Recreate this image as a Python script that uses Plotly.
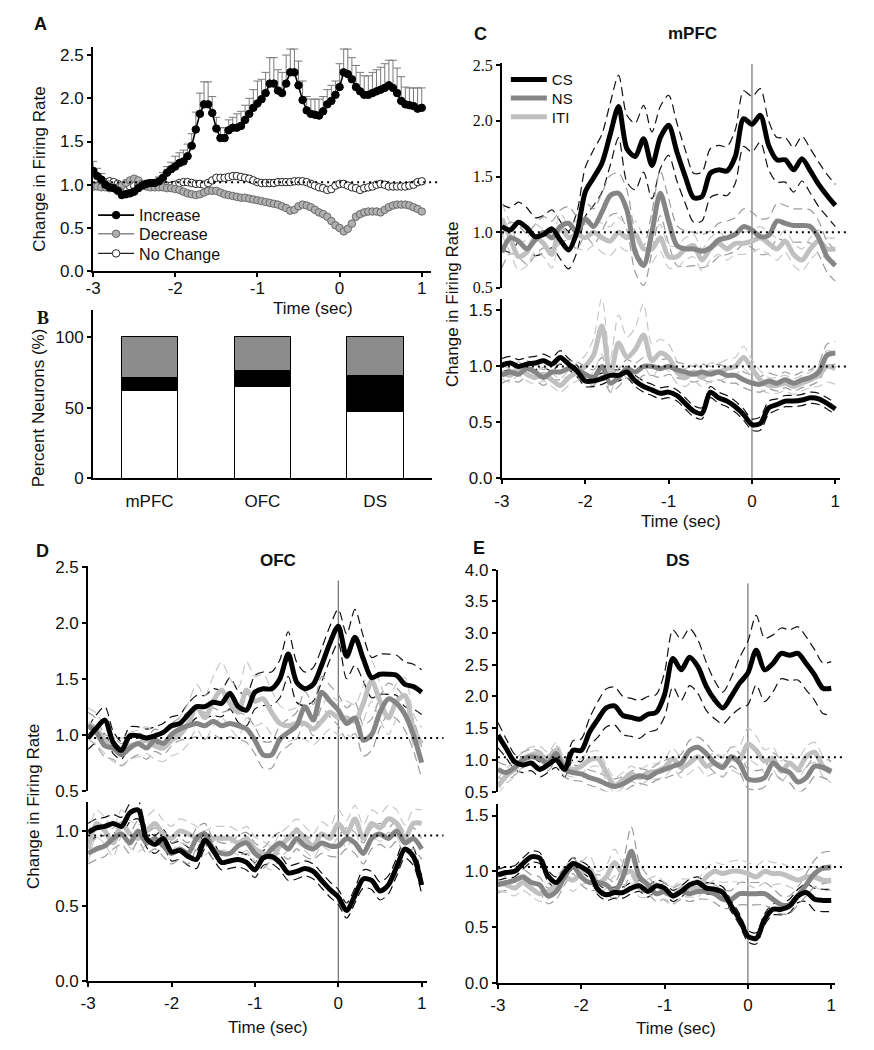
import numpy as np
import plotly.graph_objects as go

W, H = 874, 1050

# ======================= DATA =======================
# ---- Panel A : population firing (0.05 s bins) ----
time_A = np.round(np.linspace(-3, 1, 81), 2)
inc_A = [1.16,1.10,1.06,1.00,0.97,0.96,0.93,0.88,0.89,0.90,
         0.92,0.96,0.99,1.01,1.02,1.02,1.04,1.08,1.14,1.18,
         1.21,1.25,1.27,1.33,1.45,1.64,1.82,1.93,1.93,1.83,
         1.65,1.54,1.54,1.63,1.66,1.66,1.68,1.75,1.82,1.89,
         1.94,1.99,2.06,2.17,2.17,2.09,2.06,2.17,2.30,2.30,
         2.15,1.98,1.86,1.82,1.81,1.80,1.85,1.93,1.97,2.04,
         2.13,2.30,2.28,2.22,2.13,2.08,2.04,2.04,2.06,2.08,
         2.10,2.12,2.15,2.12,2.06,1.97,1.93,1.92,1.91,1.88,
         1.89]
inc_err_A = [0.11,0.09,0.07,0.05,0.04,0.04,0.04,0.04,0.04,0.04,
             0.04,0.04,0.04,0.04,0.04,0.04,0.05,0.06,0.07,0.08,
             0.12,0.12,0.13,0.14,0.14,0.20,0.24,0.26,0.26,0.19,
             0.13,0.12,0.12,0.12,0.12,0.16,0.17,0.17,0.18,0.21,
             0.26,0.23,0.24,0.30,0.30,0.24,0.24,0.33,0.27,0.27,
             0.28,0.22,0.16,0.17,0.18,0.19,0.17,0.17,0.18,0.16,
             0.27,0.27,0.29,0.25,0.25,0.22,0.22,0.22,0.24,0.25,
             0.26,0.28,0.29,0.32,0.29,0.28,0.20,0.20,0.21,0.24,
             0.23]
dec_A = [0.98,0.98,0.97,0.97,0.96,0.96,0.97,0.99,1.02,1.05,
         1.07,1.05,1.01,0.98,0.97,0.97,0.97,0.97,0.96,0.96,
         0.95,0.94,0.92,0.90,0.89,0.88,0.89,0.91,0.93,0.93,
         0.93,0.91,0.89,0.88,0.87,0.86,0.85,0.85,0.84,0.83,
         0.82,0.81,0.80,0.79,0.78,0.77,0.75,0.73,0.70,0.71,
         0.75,0.77,0.76,0.74,0.71,0.68,0.66,0.63,0.58,0.53,
         0.50,0.46,0.49,0.55,0.63,0.66,0.68,0.69,0.69,0.69,
         0.68,0.71,0.74,0.76,0.77,0.77,0.77,0.76,0.74,0.72,
         0.69]
noch_A = [0.98,0.99,1.01,1.03,1.04,1.03,1.01,0.98,0.97,0.98,
          0.99,1.00,1.00,0.99,0.99,0.99,0.99,0.99,0.99,0.99,
          1.00,1.02,1.03,1.03,1.02,1.01,1.01,1.00,1.02,1.05,
          1.08,1.08,1.08,1.09,1.10,1.10,1.09,1.08,1.07,1.05,
          1.03,1.02,1.02,1.02,1.02,1.03,1.03,1.03,1.03,1.04,
          1.04,1.04,1.03,1.01,0.99,0.97,0.96,0.94,0.95,0.99,
          1.01,1.01,0.99,0.97,0.96,0.94,0.96,0.97,0.98,1.00,
          1.01,1.00,0.98,0.98,0.98,0.98,0.98,0.99,1.00,1.03,
          1.04]
names_A = ["Increase", "Decrease", "No Change"]
base_A = 1.03

# ---- Panel B : percent of neurons ----
regions = ["mPFC", "OFC", "DS"]
pct_nochange = [62, 65, 47]
pct_increase = [9, 11.5, 26]
pct_decrease = [29, 23.5, 27]

# ---- Panels C-E : CS / NS / ITI (0.1 s bins) ----
time_T = np.round(np.linspace(-3, 1, 41), 1)
cue_names = ["CS", "NS", "ITI"]

# mPFC, increase cells
cs_mpfc_up = [1.05,1.02,1.09,1.04,0.96,0.98,1.03,0.93,0.84,1.00,
              1.36,1.49,1.62,1.88,2.13,1.75,1.68,1.84,1.60,1.85,
              1.96,1.72,1.50,1.31,1.32,1.53,1.56,1.55,1.68,2.02,
              1.97,2.05,1.78,1.65,1.65,1.56,1.66,1.55,1.43,1.33,
              1.24]
cs_mpfc_up_sem = [0.20,0.20,0.18,0.18,0.17,0.17,0.17,0.17,0.17,0.18,
                  0.22,0.25,0.26,0.28,0.28,0.30,0.30,0.30,0.30,0.28,
                  0.27,0.26,0.24,0.22,0.22,0.22,0.22,0.22,0.24,0.25,
                  0.25,0.24,0.22,0.20,0.20,0.20,0.20,0.20,0.20,0.19,
                  0.19]
ns_mpfc_up = [0.82,0.95,0.92,0.85,0.93,1.00,0.95,1.05,1.08,1.00,
              1.12,1.05,1.18,1.33,1.35,1.20,0.82,0.70,1.00,1.35,
              1.10,0.88,0.85,0.85,0.83,0.86,0.93,0.95,0.98,1.05,
              1.02,0.96,0.97,1.10,1.08,1.06,1.06,1.05,0.95,0.78,
              0.70]
ns_mpfc_up_sem = [0.14,0.14,0.14,0.14,0.14,0.14,0.15,0.15,0.15,0.15,
                  0.15,0.16,0.17,0.18,0.18,0.18,0.18,0.18,0.18,0.20,
                  0.20,0.18,0.16,0.15,0.15,0.15,0.15,0.15,0.15,0.16,
                  0.16,0.16,0.16,0.16,0.16,0.15,0.15,0.15,0.15,0.14,
                  0.14]
iti_mpfc_up = [1.12,0.95,0.78,0.82,0.95,0.90,0.80,1.05,0.95,0.98,
               0.95,1.00,0.95,0.92,1.00,0.95,0.98,0.85,0.85,0.95,
               0.78,0.78,0.85,0.88,0.75,0.85,0.90,0.85,0.90,0.90,
               0.92,0.95,0.90,0.85,0.92,0.80,0.75,0.85,0.92,0.85,
               0.85]
iti_mpfc_up_sem = [0.14,0.13,0.12,0.12,0.12,0.12,0.12,0.12,0.12,0.12,
                   0.12,0.12,0.13,0.13,0.13,0.12,0.12,0.12,0.12,0.12,
                   0.10,0.10,0.10,0.10,0.10,0.10,0.10,0.10,0.10,0.10,
                   0.10,0.10,0.10,0.10,0.10,0.10,0.10,0.10,0.10,0.10,
                   0.10]
# mPFC, decrease cells
cs_mpfc_dn = [1.01,1.03,1.00,1.02,1.03,1.05,1.02,1.08,1.02,0.96,
              0.87,0.87,0.89,0.92,0.92,0.95,0.87,0.82,0.79,0.76,
              0.77,0.74,0.67,0.60,0.58,0.77,0.72,0.69,0.64,0.57,
              0.48,0.49,0.63,0.66,0.69,0.69,0.70,0.72,0.71,0.67,
              0.62]
cs_mpfc_dn_sem = [0.06,0.06,0.06,0.06,0.06,0.06,0.06,0.06,0.05,0.05,
                  0.05,0.05,0.05,0.05,0.05,0.05,0.05,0.05,0.05,0.05,
                  0.05,0.05,0.05,0.05,0.05,0.05,0.05,0.05,0.05,0.05,
                  0.05,0.06,0.06,0.05,0.05,0.05,0.05,0.05,0.05,0.05,
                  0.05]
ns_mpfc_dn = [0.92,0.95,0.93,0.98,0.95,0.90,0.95,0.95,0.98,0.97,
              0.93,0.90,1.00,0.85,0.90,0.98,0.95,1.00,1.00,0.98,
              1.00,0.97,0.95,0.93,0.95,0.93,0.95,0.92,0.92,0.88,
              0.85,0.84,0.87,0.85,0.88,0.85,0.88,0.90,0.95,1.10,
              1.12]
ns_mpfc_dn_sem = [0.07,0.07,0.07,0.07,0.07,0.07,0.07,0.07,0.07,0.07,
                  0.07,0.07,0.08,0.08,0.08,0.08,0.08,0.08,0.08,0.08,
                  0.07,0.07,0.07,0.07,0.07,0.07,0.07,0.07,0.07,0.07,
                  0.07,0.07,0.07,0.07,0.07,0.07,0.07,0.07,0.08,0.10,
                  0.10]
iti_mpfc_dn = [0.95,0.92,0.98,0.93,0.90,0.93,0.88,0.83,0.90,0.95,
               1.00,1.10,1.36,0.92,1.21,1.08,1.15,1.28,1.05,1.12,
               1.08,0.95,0.90,0.95,0.90,0.95,0.95,0.98,1.00,1.08,
               0.98,0.88,0.83,0.83,0.85,0.82,0.85,0.88,0.92,1.00,
               0.98]
iti_mpfc_dn_sem = [0.06,0.06,0.06,0.06,0.06,0.06,0.06,0.06,0.07,0.08,
                   0.10,0.15,0.25,0.15,0.25,0.18,0.20,0.28,0.15,0.12,
                   0.12,0.10,0.08,0.08,0.08,0.08,0.08,0.08,0.08,0.10,
                   0.08,0.08,0.07,0.07,0.07,0.07,0.07,0.07,0.10,0.14,
                   0.14]

# OFC, increase cells
cs_ofc_up = [0.97,1.06,1.13,0.93,0.86,0.99,0.99,0.97,0.99,1.02,
             1.08,1.10,1.18,1.25,1.25,1.29,1.28,1.37,1.25,1.22,
             1.38,1.41,1.41,1.50,1.72,1.47,1.41,1.45,1.62,1.82,
             1.97,1.70,1.87,1.68,1.51,1.54,1.54,1.53,1.45,1.43,
             1.38]
cs_ofc_up_sem = [0.10,0.12,0.12,0.10,0.08,0.08,0.08,0.08,0.08,0.08,
                 0.08,0.08,0.10,0.10,0.10,0.12,0.12,0.14,0.14,0.14,
                 0.15,0.15,0.15,0.17,0.20,0.18,0.15,0.15,0.15,0.15,
                 0.15,0.20,0.25,0.20,0.18,0.18,0.18,0.18,0.20,0.20,
                 0.20]
ns_ofc_up = [1.08,1.02,0.90,0.88,0.82,0.88,0.92,0.88,0.95,0.92,
             1.00,1.05,1.08,1.10,1.08,1.12,1.08,1.10,1.08,1.05,
             0.95,0.82,0.82,0.96,1.02,1.08,1.25,1.13,1.38,1.30,
             1.22,1.10,1.15,0.95,1.00,1.20,1.32,1.28,1.18,1.00,
             0.75]
ns_ofc_up_sem = [0.12,0.12,0.10,0.10,0.10,0.10,0.10,0.10,0.10,0.10,
                 0.10,0.10,0.12,0.12,0.12,0.12,0.12,0.12,0.12,0.12,
                 0.12,0.12,0.12,0.12,0.12,0.12,0.14,0.14,0.14,0.14,
                 0.14,0.14,0.14,0.14,0.14,0.14,0.14,0.14,0.14,0.14,
                 0.14]
iti_ofc_up = [1.10,1.05,0.95,0.88,0.85,0.90,0.92,0.95,0.90,0.88,
              0.95,1.00,1.10,1.25,1.15,1.30,1.40,1.28,1.20,1.40,
              1.30,1.32,1.20,1.10,1.08,1.10,1.10,1.05,1.12,1.20,
              1.15,1.15,1.12,1.28,1.48,1.30,1.15,1.30,1.35,1.05,
              0.92]
iti_ofc_up_sem = [0.14,0.14,0.12,0.12,0.12,0.12,0.12,0.12,0.12,0.12,
                  0.14,0.16,0.18,0.20,0.20,0.22,0.25,0.22,0.22,0.25,
                  0.22,0.22,0.20,0.16,0.14,0.14,0.14,0.14,0.14,0.15,
                  0.15,0.15,0.15,0.16,0.18,0.16,0.15,0.16,0.16,0.14,
                  0.14]
# OFC, decrease cells
cs_ofc_dn = [0.99,1.02,1.03,1.05,1.03,1.12,1.14,0.95,0.91,0.95,
             0.86,0.87,0.83,0.81,0.94,0.87,0.79,0.80,0.81,0.79,
             0.74,0.82,0.83,0.79,0.72,0.73,0.75,0.73,0.67,0.61,
             0.56,0.47,0.57,0.68,0.67,0.60,0.64,0.76,0.88,0.83,
             0.64]
cs_ofc_dn_sem = [0.06,0.06,0.06,0.06,0.06,0.06,0.06,0.06,0.06,0.06,
                 0.06,0.06,0.06,0.06,0.06,0.06,0.05,0.05,0.05,0.05,
                 0.05,0.05,0.05,0.05,0.05,0.05,0.05,0.05,0.05,0.05,
                 0.05,0.05,0.05,0.06,0.06,0.06,0.06,0.06,0.06,0.06,
                 0.06]
ns_ofc_dn = [0.85,0.88,0.90,0.95,0.98,0.92,1.00,0.92,0.95,0.90,
             0.85,0.88,0.85,0.95,0.98,0.88,0.85,0.85,0.90,0.92,
             0.85,0.82,0.88,0.92,0.88,0.95,0.90,0.88,0.92,0.90,
             0.90,0.95,0.92,0.85,0.95,0.98,0.95,1.00,0.92,0.95,
             0.88]
ns_ofc_dn_sem = [0.07,0.07,0.07,0.07,0.07,0.07,0.07,0.07,0.07,0.07,
                 0.07,0.07,0.07,0.07,0.07,0.07,0.07,0.07,0.07,0.07,
                 0.07,0.07,0.07,0.07,0.07,0.07,0.07,0.07,0.07,0.07,
                 0.07,0.07,0.07,0.07,0.07,0.07,0.07,0.07,0.07,0.07,
                 0.07]
iti_ofc_dn = [0.88,1.05,1.00,0.92,1.05,0.98,0.95,1.00,1.05,0.98,
              0.95,1.00,0.98,0.95,0.92,0.95,0.95,0.95,0.92,0.95,
              0.88,0.85,0.82,0.90,0.95,1.00,0.95,0.90,0.98,0.95,
              1.05,0.98,1.08,0.95,1.05,1.02,1.08,1.05,0.95,1.05,
              1.05]
iti_ofc_dn_sem = [0.09,0.09,0.09,0.09,0.09,0.09,0.09,0.09,0.09,0.09,
                  0.08,0.08,0.08,0.08,0.08,0.08,0.08,0.08,0.08,0.08,
                  0.08,0.08,0.08,0.08,0.08,0.08,0.08,0.08,0.08,0.08,
                  0.09,0.09,0.09,0.09,0.09,0.09,0.09,0.09,0.09,0.09,
                  0.09]

# DS, increase cells
cs_ds_up = [1.39,1.18,0.97,0.92,0.95,0.85,0.92,1.00,0.85,1.15,
            1.15,1.44,1.64,1.82,1.85,1.70,1.67,1.64,1.72,1.75,
            2.03,2.60,2.42,2.62,2.47,2.16,1.95,1.82,2.00,2.21,
            2.37,2.73,2.42,2.52,2.68,2.65,2.68,2.52,2.34,2.13,
            2.13]
cs_ds_up_sem = [0.20,0.15,0.12,0.12,0.12,0.12,0.12,0.12,0.12,0.15,
                0.18,0.22,0.28,0.30,0.30,0.30,0.30,0.30,0.28,0.28,
                0.35,0.45,0.48,0.45,0.42,0.38,0.30,0.25,0.30,0.40,
                0.50,0.55,0.50,0.45,0.40,0.40,0.42,0.42,0.40,0.40,
                0.42]
ns_ds_up = [0.85,0.80,0.88,1.00,1.05,1.02,0.95,1.10,0.85,0.80,
            0.78,0.72,0.68,0.62,0.58,0.62,0.70,0.75,0.72,0.80,
            0.85,0.90,0.95,1.15,1.20,1.10,0.95,0.88,1.05,0.95,
            0.70,0.68,0.72,0.95,0.85,0.80,0.65,0.72,0.90,0.88,
            0.82]
ns_ds_up_sem = [0.12,0.12,0.12,0.12,0.12,0.12,0.12,0.12,0.12,0.12,
                0.12,0.12,0.12,0.12,0.12,0.12,0.12,0.12,0.12,0.12,
                0.14,0.14,0.14,0.16,0.16,0.16,0.15,0.15,0.15,0.15,
                0.15,0.15,0.15,0.16,0.16,0.16,0.16,0.16,0.16,0.16,
                0.16]
iti_ds_up = [0.58,0.75,0.85,1.02,1.08,1.10,1.00,1.15,0.90,0.85,
             0.90,1.00,1.02,0.80,0.60,0.68,0.78,0.72,0.80,0.82,
             0.88,1.02,0.88,0.95,1.05,0.90,0.95,0.90,1.02,1.00,
             1.25,1.15,0.98,1.02,0.82,0.95,0.85,1.05,1.12,0.90,
             0.80]
iti_ds_up_sem = [0.12,0.12,0.12,0.12,0.12,0.12,0.12,0.12,0.12,0.12,
                 0.12,0.12,0.12,0.12,0.12,0.12,0.12,0.12,0.12,0.12,
                 0.14,0.16,0.16,0.16,0.16,0.16,0.16,0.16,0.18,0.22,
                 0.25,0.22,0.18,0.18,0.16,0.16,0.16,0.16,0.16,0.16,
                 0.16]
# DS, decrease cells
cs_ds_dn = [0.97,0.99,1.00,1.07,1.13,1.12,0.96,0.90,0.99,1.07,
            1.04,0.99,0.84,0.79,0.81,0.81,0.85,0.87,0.82,0.87,
            0.85,0.78,0.82,0.88,0.90,0.85,0.84,0.81,0.69,0.57,
            0.42,0.40,0.57,0.66,0.66,0.69,0.78,0.81,0.75,0.74,
            0.74]
cs_ds_dn_sem = [0.05,0.05,0.05,0.05,0.05,0.05,0.05,0.05,0.05,0.05,
                0.05,0.05,0.05,0.05,0.05,0.05,0.05,0.05,0.05,0.05,
                0.05,0.05,0.05,0.05,0.05,0.05,0.05,0.05,0.05,0.05,
                0.05,0.05,0.05,0.05,0.05,0.06,0.06,0.08,0.10,0.10,
                0.10]
ns_ds_dn = [0.88,0.90,0.92,0.95,0.90,0.88,0.78,0.82,0.95,1.05,
            0.95,0.90,0.90,0.88,0.82,0.95,1.18,0.95,0.88,0.80,
            0.82,0.78,0.82,0.80,0.82,0.82,0.80,0.75,0.75,0.80,
            0.80,0.80,0.80,0.75,0.70,0.70,0.78,0.88,0.98,1.03,
            1.04]
ns_ds_dn_sem = [0.07,0.07,0.07,0.07,0.07,0.07,0.07,0.07,0.07,0.07,
                0.07,0.07,0.07,0.07,0.08,0.12,0.22,0.12,0.08,0.07,
                0.07,0.07,0.07,0.07,0.07,0.07,0.08,0.08,0.08,0.10,
                0.10,0.10,0.10,0.10,0.08,0.08,0.08,0.10,0.12,0.14,
                0.14]
iti_ds_dn = [0.90,0.88,0.85,0.90,0.85,0.80,0.82,0.88,0.95,0.92,
             0.98,1.02,0.90,0.95,1.08,0.98,1.00,0.85,0.85,0.88,
             0.82,0.78,0.85,0.85,0.85,0.95,1.00,0.98,1.00,1.00,
             0.98,0.95,1.00,0.98,0.98,0.95,0.92,0.95,0.95,0.92,
             0.92]
iti_ds_dn_sem = [0.07,0.07,0.07,0.07,0.07,0.07,0.07,0.07,0.08,0.10,
                 0.10,0.12,0.10,0.10,0.12,0.10,0.10,0.08,0.08,0.08,
                 0.08,0.08,0.08,0.08,0.08,0.08,0.08,0.08,0.09,0.10,
                 0.10,0.10,0.10,0.10,0.09,0.09,0.09,0.09,0.09,0.09,
                 0.09]

base_mpfc, base_ofc, base_ds = 1.0, 0.97, 1.04
time_ticks = [-3, -2, -1, 0, 1]
time_ticktext = ["-3", "-2", "-1", "0", "1"]

# ======================= STYLE =======================
SANS = "Liberation Sans, Arial, sans-serif"
SERIF = "Liberation Serif, Times New Roman, serif"
C_CS, C_NS, C_ITI = "#000000", "#858585", "#c0c0c0"
B_CS, B_NS, B_ITI = "#111111", "#9c9c9c", "#c8c8c8"
TICK = 17


def fx(px):
    return px / W


def fy(py):
    return 1 - py / H


fig = go.Figure()

# ---------------- Panel A ----------------
fig.add_trace(go.Scatter(
    x=time_A, y=noch_A, mode="lines+markers", name=names_A[2],
    line=dict(color="#222222", width=1.3),
    marker=dict(symbol="circle", size=7.5, color="white", line=dict(color="#222222", width=1)),
    xaxis="x", yaxis="y", legend="legend4"))
fig.add_trace(go.Scatter(
    x=time_A, y=dec_A, mode="lines+markers", name=names_A[1],
    line=dict(color="#8a8a8a", width=1.3),
    marker=dict(symbol="circle", size=7.5, color="#b0b0b0", line=dict(color="#6a6a6a", width=1)),
    xaxis="x", yaxis="y", legend="legend3"))
fig.add_trace(go.Scatter(
    x=time_A, y=inc_A, mode="lines+markers", name=names_A[0],
    line=dict(color="#000000", width=1.6),
    marker=dict(symbol="circle", size=7.5, color="#000000", line=dict(color="#000000", width=1)),
    error_y=dict(type="data", symmetric=False, array=inc_err_A, arrayminus=[0] * len(inc_err_A),
                 color="#7a7a7a", thickness=1, width=4),
    xaxis="x", yaxis="y", legend="legend"))

# ---------------- Panel B ----------------
for vals, col in [(pct_nochange, "#ffffff"), (pct_increase, "#000000"), (pct_decrease, "#8c8c8c")]:
    fig.add_trace(go.Bar(
        x=regions, y=vals, width=0.5, marker=dict(color=col, line=dict(color="#000000", width=1)),
        showlegend=False, xaxis="x2", yaxis="y2"))

# ---------------- Panels C, D, E ----------------
CUE_LEGENDS = {"CS": "legend2", "NS": "legend5", "ITI": "legend6"}


def add_group(series, xa, ya, legend_on=False):
    # dashed SEM envelopes first
    for mean, sem, col, bcol, name in series:
        m = np.array(mean)
        s = np.array(sem)
        for band in (m + s, m - s):
            fig.add_trace(go.Scatter(
                x=time_T, y=band, mode="lines",
                line=dict(color=bcol, width=1.2, dash="9px,5px", shape="spline", smoothing=0.8),
                showlegend=False, hoverinfo="skip", xaxis=xa, yaxis=ya))
    for mean, sem, col, bcol, name in reversed(series):
        fig.add_trace(go.Scatter(
            x=time_T, y=mean, mode="lines", name=name,
            line=dict(color=col, width=5, shape="spline", smoothing=0.8),
            showlegend=legend_on, legend=CUE_LEGENDS[name], xaxis=xa, yaxis=ya))


def triple(cs, cs_s, ns, ns_s, iti, iti_s):
    return [(cs, cs_s, C_CS, B_CS, cue_names[0]),
            (ns, ns_s, C_NS, B_NS, cue_names[1]),
            (iti, iti_s, C_ITI, B_ITI, cue_names[2])]


add_group(triple(cs_mpfc_up, cs_mpfc_up_sem, ns_mpfc_up, ns_mpfc_up_sem, iti_mpfc_up, iti_mpfc_up_sem), "x3", "y3", True)
add_group(triple(cs_mpfc_dn, cs_mpfc_dn_sem, ns_mpfc_dn, ns_mpfc_dn_sem, iti_mpfc_dn, iti_mpfc_dn_sem), "x4", "y4")
add_group(triple(cs_ofc_up, cs_ofc_up_sem, ns_ofc_up, ns_ofc_up_sem, iti_ofc_up, iti_ofc_up_sem), "x5", "y5")
add_group(triple(cs_ofc_dn, cs_ofc_dn_sem, ns_ofc_dn, ns_ofc_dn_sem, iti_ofc_dn, iti_ofc_dn_sem), "x6", "y6")
add_group(triple(cs_ds_up, cs_ds_up_sem, ns_ds_up, ns_ds_up_sem, iti_ds_up, iti_ds_up_sem), "x7", "y7")
add_group(triple(cs_ds_dn, cs_ds_dn_sem, ns_ds_dn, ns_ds_dn_sem, iti_ds_dn, iti_ds_dn_sem), "x8", "y8")

# ======================= AXES =======================
tickfont = dict(family=SANS, size=TICK, color="#111111")


def yax(dom_px, rng, tickvals, font=tickfont, anchor="x"):
    return dict(domain=[fy(dom_px[0]), fy(dom_px[1])], range=rng, anchor=anchor,
                tickvals=tickvals, ticktext=[f"{v:.1f}" if isinstance(v, float) else str(v) for v in tickvals],
                showline=True, linecolor="#000000", linewidth=2, ticks="outside", ticklen=4,
                tickwidth=1.5, tickcolor="#000000", showgrid=False, zeroline=False,
                tickfont=font, fixedrange=True)


def xax(dom_px, rng, anchor, visible=True, standoff=2):
    d = dict(domain=[fx(dom_px[0]), fx(dom_px[1])], range=rng, anchor=anchor,
             showgrid=False, zeroline=False, fixedrange=True)
    if visible:
        d.update(tickvals=time_ticks, ticktext=time_ticktext, showline=True, linecolor="#000000",
                 linewidth=2, ticks="outside", ticklen=4, tickwidth=1.5, tickcolor="#000000",
                 tickfont=tickfont, ticklabelstandoff=standoff)
    else:
        d.update(visible=False)
    return d


def leg(xpx, ypx, size):
    return dict(x=fx(xpx), y=fy(ypx), xanchor="left", yanchor="middle", bgcolor="rgba(0,0,0,0)",
                font=dict(family=SANS, size=size, color="#111111"), itemwidth=36)


yt = [0.0, 0.5, 1.0, 1.5, 2.0, 2.5]
layout = dict(
    width=W, height=H, autosize=False,
    margin=dict(l=0, r=0, t=0, b=0),
    paper_bgcolor="white", plot_bgcolor="rgba(0,0,0,0)",
    barmode="stack",
    font=dict(family=SANS, color="#111111"),
    xaxis=xax((86, 427), [-3, 1.108], "y", standoff=-4),
    yaxis=yax((267, 39), [0, 2.59], yt, anchor="x"),
    xaxis2=dict(domain=[fx(86), fx(428)], range=[-0.5, 2.5], anchor="y2", showline=True,
                linecolor="#000000", linewidth=2, ticks="", showgrid=False, zeroline=False,
                tickfont=tickfont, ticklabelstandoff=6, fixedrange=True),
    yaxis2=yax((478, 307), [0, 118.75], [0, 50, 100], anchor="x2"),
    xaxis3=xax((499, 841), [-3, 1.06], "y3", visible=False),
    yaxis3=yax((284, 55), [0.5, 2.52], [0.5, 1.0, 1.5, 2.0, 2.5],
               font=dict(family=SERIF, size=16, color="#111111"), anchor="x3"),
    xaxis4=xax((499, 841), [-3, 1.06], "y4"),
    yaxis4=yax((478, 295), [0, 1.605], [0.0, 0.5, 1.0, 1.5], anchor="x4"),
    xaxis5=xax((81, 423), [-3, 1.06], "y5", visible=False),
    yaxis5=yax((796, 567), [0.5, 2.51], [0.5, 1.0, 1.5, 2.0, 2.5], anchor="x5"),
    xaxis6=xax((81, 423), [-3, 1.06], "y6"),
    yaxis6=yax((990, 808), [0, 1.19], [0.0, 0.5, 1.0], anchor="x6"),
    xaxis7=xax((495, 836), [-3, 1.05], "y7", visible=False),
    yaxis7=yax((797, 571), [0.5, 4.0], [0.5, 1.0, 1.5, 2.0, 2.5, 3.0, 3.5, 4.0], anchor="x7"),
    xaxis8=xax((495, 836), [-3, 1.05], "y8"),
    yaxis8=yax((992, 810), [0, 1.6], [0.0, 0.5, 1.0, 1.5], anchor="x8"),
    legend=leg(86, 210, 16), legend3=leg(86, 229, 16), legend4=leg(86, 249, 16),
    legend2=leg(503, 72, 15), legend5=leg(503, 91, 15), legend6=leg(503, 110, 15),
)
fig.update_layout(**layout)

# ======================= REFERENCE LINES =======================
shapes = []
for yref, xl, xr, base in [("y", 86, 437, base_A), ("y3", 499, 848, base_mpfc), ("y4", 499, 848, base_mpfc),
                           ("y5", 81, 440, base_ofc), ("y6", 81, 440, base_ofc),
                           ("y7", 495, 843, base_ds), ("y8", 495, 843, base_ds)]:
    shapes.append(dict(type="line", xref="paper", yref=yref, x0=fx(xl), x1=fx(xr), y0=base, y1=base,
                       line=dict(color="#000000", width=2, dash="2px,4px"), layer="above"))
for xref, ytop, ybot in [("x4", 56, 478), ("x6", 582, 990), ("x8", 585, 992)]:
    shapes.append(dict(type="line", xref=xref, yref="paper", x0=0, x1=0, y0=fy(ybot), y1=fy(ytop),
                       line=dict(color="#555555", width=1), layer="below"))
fig.update_layout(shapes=shapes)

# ======================= TEXT =======================
ann = []


def txt(s, x, y, size=17, bold=False, family=SANS, angle=0):
    ann.append(dict(text=f"<b>{s}</b>" if bold else s, x=fx(x), y=fy(y), xref="paper", yref="paper",
                    showarrow=False, xanchor="center", yanchor="middle", textangle=angle,
                    font=dict(family=family, size=size, color="#111111")))


txt("A", 33, 15, 18, True)
txt("B", 35, 315, 18, True, SERIF)
txt("C", 477, 25, 18, True)
txt("D", 35, 552, 18, True)
txt("E", 476, 549, 18, True)
txt("mPFC", 692, 25, 17, True)
txt("OFC", 273, 562, 17, True)
txt("DS", 677, 562, 17, True)
txt("Time (sec)", 308, 305)
txt("Time (sec)", 680, 522)
txt("Time (sec)", 263, 1037)
txt("Time (sec)", 675, 1038)
txt("Change in Firing Rate", 31, 163, angle=-90)
txt("Percent Neurons (%)", 31, 406, angle=-90)
txt("Change in Firing Rate", 449, 301, angle=-90)
txt("Change in Firing Rate", 26, 812, angle=-90)
fig.update_layout(annotations=ann)

fig.write_html("out.html", config={"displayModeBar": False},
               post_script="document.body.style.margin='0px';")
